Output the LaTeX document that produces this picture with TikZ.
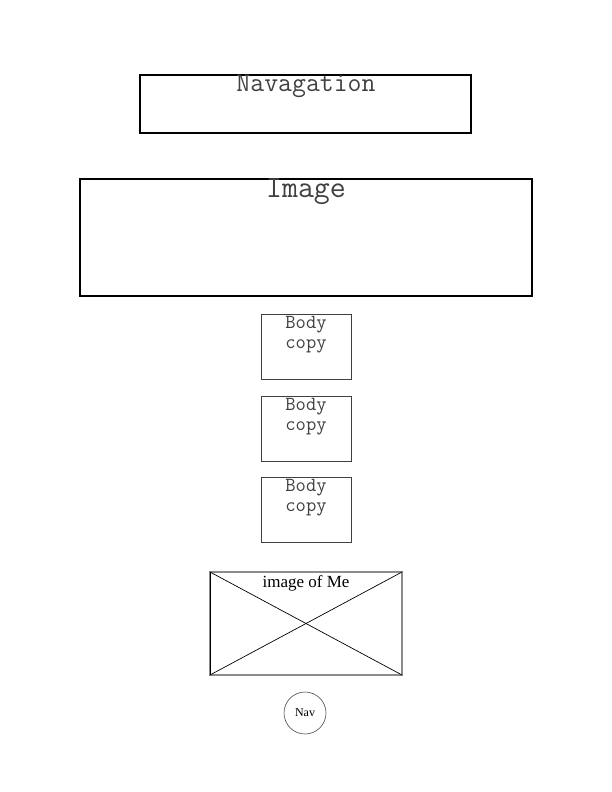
\documentclass[tikz,border=0pt]{standalone}
\usepackage{fontspec}
\setmainfont{Liberation Serif}
\begin{document}
\begin{tikzpicture}[x=1pt,y=-1pt,
  frame/.style={draw=black,line width=1.3pt},
  bigframe/.style={draw=black,line width=2pt},
  bodybox/.style={draw=black!75,line width=0.9pt},
  mono/.style={text=black!75,inner sep=0pt,anchor=base}]
\useasboundingbox (0,0) rectangle (612,792);
% Navigation
\draw[frame] (140,75) rectangle (471,133);
\node[mono,font=\ttfamily\fontsize{27}{29}\selectfont] (nav) at (306,91) {Navagation};
% Image
\draw[bigframe] (79.5,178.5) rectangle (532,296);
\node[mono,font=\ttfamily\fontsize{31}{33}\selectfont] (img) at (306,197) {Image};
% Body copies
\foreach \y/\n in {314/b1,396/b2,477/b3}{
  \draw[bodybox] (261,\y) rectangle (351,\y+65);
  \node[mono,font=\ttfamily\fontsize{20}{22}\selectfont] (\n a) at (306,\y+14) {Body};
  \node[mono,font=\ttfamily\fontsize{20}{22}\selectfont] (\n b) at (306,\y+34.5) {copy};
}
% image of me
\coordinate (tl) at (210,572);
\coordinate (tr) at (402,572);
\coordinate (bl) at (210,675);
\coordinate (br) at (402,675);
\draw[draw=black!45,line width=1.5pt] (tl) rectangle (br);
\draw[line width=0.7pt] (tl) -- (br);
\draw[line width=0.7pt] (bl) -- (tr);
\draw[line width=0.7pt] (tl) -- (bl);
\node[font=\fontsize{17}{19}\selectfont,inner sep=0pt,anchor=base] (me) at (306,587) {image of Me};
% Nav circle
\node[draw=black!70,line width=0.6pt,circle,minimum size=42pt,inner sep=0pt,font=\fontsize{12}{13}\selectfont] (navc) at (305,713) {Nav};
\end{tikzpicture}
\end{document}
